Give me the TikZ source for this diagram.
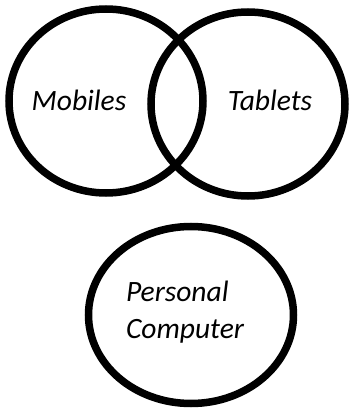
\documentclass[tikz,border=0pt]{standalone}
\usepackage{fontspec}
\setmainfont{Carlito}
\usetikzlibrary{shapes.geometric, positioning}

\tikzset{
    ring/.style={ellipse, draw, line width=7.5pt, inner sep=0pt},
    label/.style={font=\itshape\fontsize{29.5}{37}\selectfont, align=left}
}

\begin{document}
\begin{tikzpicture}[x=1pt, y=1pt]
    \useasboundingbox (0,0) rectangle (352,408);

    \path (106, 307) node[ring, minimum width=194pt, minimum height=184pt] (mobiles) {};
    \path (248, 304) node[ring, minimum width=194pt, minimum height=184pt] (tablets) {};
    \path (191, 93)  node[ring, minimum width=205pt, minimum height=177pt] (pc) {};

    \path (79, 308)  node[label] (mobtext) {Mobiles};
    \path (270, 308) node[label] (tabtext) {Tablets};
    \path (185, 96)  node[label] (pctext) {Personal\\Computer};
\end{tikzpicture}
\end{document}
